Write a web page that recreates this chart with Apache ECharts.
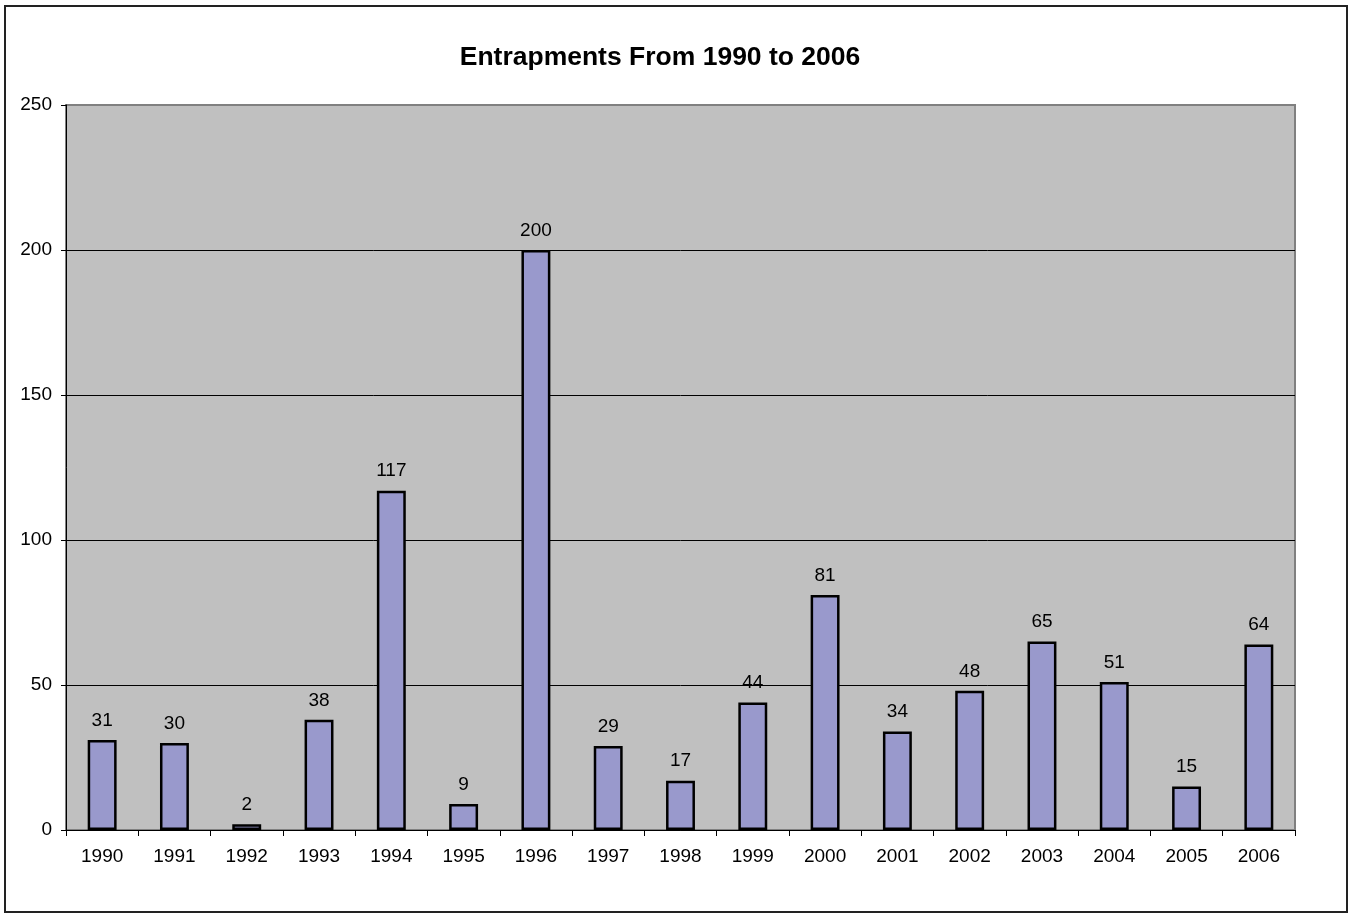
<!DOCTYPE html>
<html>
<head>
<meta charset="utf-8">
<script src="https://cdn.jsdelivr.net/npm/echarts@6/dist/echarts.min.js"></script>
<style>
  html, body { margin: 0; padding: 0; background: #fff; }
  #chart { width: 1350px; height: 914px; }
</style>
</head>
<body>
<div id="chart"></div>
<script>
const years = ['1990', '1991', '1992', '1993', '1994', '1995', '1996', '1997', '1998',
  '1999', '2000', '2001', '2002', '2003', '2004', '2005', '2006']
const entrapments = [31, 30, 2, 38, 117, 9, 200, 29, 17, 44, 81, 34, 48, 65, 51, 15, 64]

const chart = echarts.init(document.getElementById('chart'))

chart.setOption({
  backgroundColor: '#ffffff',
  animation: false,
  textStyle: { fontFamily: 'Liberation Sans, Arial, sans-serif' },
  title: {
    text: 'Entrapments From 1990 to 2006',
    left: 655,
    top: 39,
    textAlign: 'center',
    textStyle: { color: '#000', fontSize: 26.5, fontWeight: 'bold' }
  },
  graphic: [
    {
      type: 'rect',
      shape: { x: 5, y: 6, width: 1342, height: 906 },
      style: { fill: 'none', stroke: '#222', lineWidth: 2 },
      z: 100
    }
  ],
  grid: {
    left: 66,
    right: 55,
    top: 105,
    bottom: 84,
    show: true,
    backgroundColor: '#c0c0c0',
    borderColor: '#808080',
    borderWidth: 2
  },
  xAxis: {
    type: 'category',
    data: years,
    axisLine: { lineStyle: { color: '#000', width: 1 } },
    axisTick: { show: true, length: 6, lineStyle: { color: '#000' } },
    axisLabel: { color: '#000', fontSize: 19, margin: 17 }
  },
  yAxis: {
    type: 'value',
    min: 0,
    max: 250,
    interval: 50,
    axisLine: { show: true, lineStyle: { color: '#000', width: 1 } },
    axisTick: { show: true, length: 5, lineStyle: { color: '#000' } },
    splitLine: { showMaxLine: false, lineStyle: { color: '#000', width: 1 } },
    axisLabel: { color: '#000', fontSize: 19, margin: 14 }
  },
  series: [
    {
      type: 'bar',
      data: entrapments,
      barWidth: '40%',
      itemStyle: { color: '#9999cc', borderColor: '#000', borderWidth: 2.5 },
      label: {
        show: true,
        position: 'top',
        distance: 10,
        color: '#000',
        fontSize: 19
      }
    }
  ]
})
</script>
</body>
</html>
